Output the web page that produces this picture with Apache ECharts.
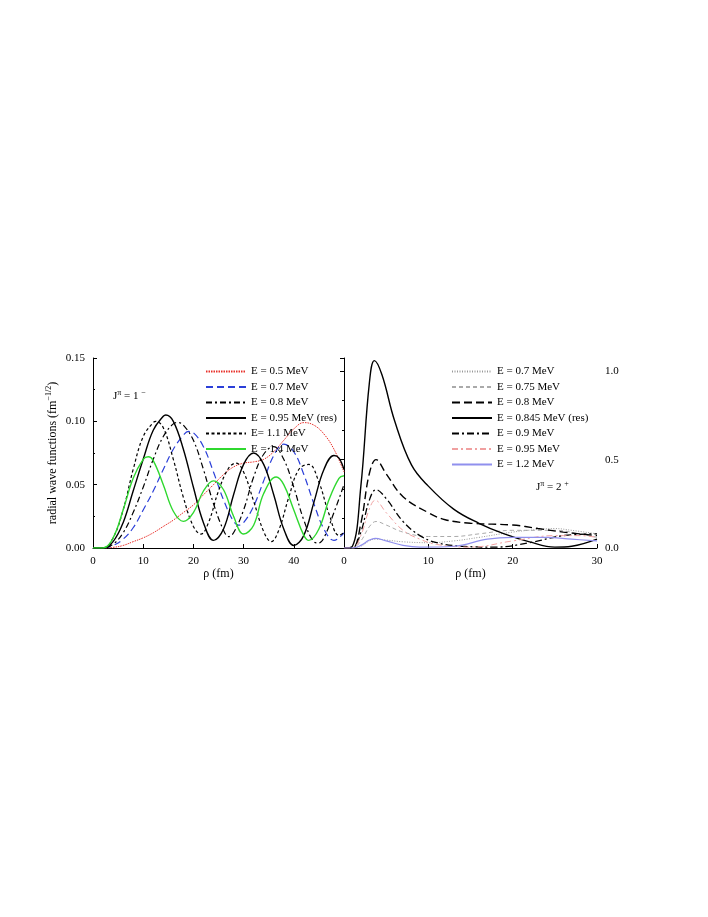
<!DOCTYPE html>
<html><head><meta charset="utf-8">
<script src="https://cdn.jsdelivr.net/npm/echarts@6/dist/echarts.min.js"></script>
<style>html,body{margin:0;padding:0;background:#fff}#c{width:708px;height:917px}</style>
</head><body><div id="c"></div>
<script>
// Left panel J=1- (rho fm, value)
const L05 = [[0,0],[2,0],[4,0.0005],[6,0.002],[8,0.005],[10,0.008],[12,0.012],[14,0.017],[16,0.022],[18,0.028],[20,0.034],[22,0.042],[24,0.05],[26,0.058],[28,0.064],[30,0.067],[32,0.068],[34,0.07],[36,0.076],[38,0.085],[40,0.094],[42,0.099],[44,0.097],[46,0.09],[48,0.078],[50,0.06]];
const L07 = [[0,0],[2,0],[4,0.002],[6,0.007],[8,0.016],[10,0.03],[12,0.045],[14,0.062],[16,0.078],[18,0.089],[19,0.092],[20,0.091],[22,0.08],[24,0.06],[26,0.038],[28,0.021],[29,0.018],[30,0.02],[32,0.033],[34,0.053],[36,0.073],[38,0.082],[40,0.076],[42,0.058],[44,0.035],[46,0.015],[48,0.006],[50,0.012]];
const L08 = [[0,0],[2,0],[4,0.003],[6,0.012],[8,0.028],[10,0.048],[12,0.07],[14,0.088],[16,0.098],[17,0.099],[18,0.097],[20,0.085],[22,0.062],[24,0.035],[26,0.014],[27,0.009],[28,0.012],[30,0.03],[32,0.056],[34,0.074],[36,0.08],[38,0.07],[40,0.048],[42,0.022],[44,0.005],[45,0.004],[46,0.008],[48,0.028],[50,0.05]];
const L095 = [[0,0],[2,0],[4,0.005],[6,0.02],[8,0.045],[10,0.07],[12,0.093],[14,0.104],[14.5,0.105],[16,0.1],[18,0.078],[20,0.048],[22,0.02],[24,0.006],[26,0.015],[28,0.042],[30,0.066],[32,0.075],[34,0.066],[36,0.042],[38,0.015],[40,0.002],[42,0.01],[44,0.036],[46,0.062],[48,0.073],[49,0.071],[50,0.062]];
const L11 = [[0,0],[2,0],[4,0.008],[6,0.03],[8,0.062],[10,0.088],[12,0.099],[12.5,0.1],[14,0.095],[16,0.07],[18,0.04],[20,0.017],[21.5,0.011],[23,0.02],[25,0.045],[27,0.063],[28.5,0.067],[30,0.06],[32,0.037],[34,0.013],[35.5,0.005],[37,0.014],[39,0.04],[41,0.062],[43,0.066],[45,0.052],[47,0.027],[49,0.01],[50,0.012]];
const L14 = [[0,0],[2,0],[4,0.008],[6,0.03],[8,0.055],[10,0.07],[11,0.072],[12,0.069],[14,0.05],[16,0.029],[18,0.021],[20,0.028],[22,0.045],[24,0.053],[26,0.046],[28,0.025],[30,0.011],[32,0.018],[34,0.043],[36.5,0.056],[38,0.05],[40,0.03],[42,0.01],[43,0.006],[45,0.015],[47,0.038],[49,0.055],[50,0.057]];
// Right panel J=2+
const R07 = [[0,0],[1,0],[2,0.01],[3,0.04],[3.7,0.05],[5,0.045],[7,0.035],[10,0.03],[13,0.04],[16,0.06],[20,0.09],[23,0.105],[25,0.11],[27,0.1],[30,0.08]];
const R075 = [[0,0],[1,0],[2,0.04],[3,0.12],[3.8,0.15],[5,0.13],[7,0.09],[10,0.065],[13,0.065],[16,0.08],[20,0.1],[25,0.1],[28,0.08],[30,0.06]];
const R08 = [[0,0],[1,0],[2,0.14],[3,0.42],[3.8,0.5],[5,0.42],[7,0.29],[10,0.2],[12,0.16],[15,0.14],[20,0.13],[23,0.11],[26,0.09],[30,0.07]];
const R0845 = [[0,0],[1,0.01],[2,0.35],[3,0.93],[3.6,1.06],[4.5,0.98],[6,0.72],[8,0.47],[10,0.35],[13,0.22],[16,0.14],[19,0.08],[22,0.035],[25,0.005],[27,0.01],[30,0.05]];
const R09 = [[0,0],[1,0],[2,0.09],[3,0.27],[3.8,0.33],[5,0.28],[7,0.15],[9,0.07],[11,0.03],[14,0.01],[18,0.005],[22,0.03],[26,0.07],[30,0.08]];
const R095 = [[0,0],[1,0],[2,0.07],[3,0.22],[3.7,0.27],[5,0.2],[7,0.1],[9,0.05],[11,0.02],[15,0.005],[20,0.04],[25,0.07],[28,0.07],[30,0.06]];
const R12 = [[0,0],[1,0],[2,0.015],[3,0.045],[3.7,0.055],[5,0.04],[7,0.015],[9,0.005],[13,0.01],[17,0.05],[20,0.06],[24,0.06],[27,0.05],[30,0.04]];

const F = 'Liberation Serif';
const ax = {axisLine:{show:true,lineStyle:{color:'#000'}},axisTick:{inside:true,length:4,lineStyle:{color:'#000'}},
  axisLabel:{fontFamily:F,fontSize:11,color:'#000'},splitLine:{show:false}};
function s(name,data,xi,color,type,w){return {name,type:'line',data,xAxisIndex:xi,yAxisIndex:xi,smooth:0.4,symbol:'none',
  lineStyle:{color,type,width:w||1.2},itemStyle:{color},z:3};}
const series=[
 s('E = 0.5 MeV',L05,0,'#e8302a',[1.5,1],1),
 s('E = 0.7 MeV',L07,0,'#2b3fd8',[7,4]),
 s('E = 0.8 MeV',L08,0,'#000',[6,3,2,3]),
 s('E = 0.95 MeV (res)',L095,0,'#000','solid',1.4),
 s('E= 1.1 MeV',L11,0,'#000',[3,2.5]),
 s('E = 1.4 MeV',L14,0,'#2fd82f','solid',1.4),
 s('E = 0.7 MeV ',R07,1,'#999',[1,1.5],1),
 s('E = 0.75 MeV',R075,1,'#aaa',[4,3],1),
 s('E = 0.8 MeV ',R08,1,'#000',[8,4],1.4),
 s('E = 0.845 MeV (res)',R0845,1,'#000','solid',1.4),
 s('E = 0.9 MeV',R09,1,'#000',[7,3,2,3],1.3),
 s('E = 0.95 MeV',R095,1,'#f0a0a0',[6,3,2,3],1),
 s('E = 1.2 MeV',R12,1,'#9090ee','solid',1.2)
];
const leg = (names,left)=>({data:names,orient:'vertical',left,top:361,itemWidth:40,itemHeight:10,itemGap:4.5,
  itemStyle:{opacity:0,borderWidth:0},textStyle:{fontFamily:F,fontSize:11,color:'#000'}});
const opt={animation:false,
 grid:[{left:93,right:364,top:358,bottom:369},{left:344,right:111,top:358,bottom:369}],
 legend:[leg(series.slice(0,6).map(x=>x.name),200),leg(series.slice(6).map(x=>x.name),446)],
 xAxis:[
  Object.assign({},ax,{type:'value',gridIndex:0,min:0,max:50,interval:10,name:'ρ (fm)',nameLocation:'middle',nameGap:16,
   nameTextStyle:{fontFamily:F,fontSize:12,color:'#000'},axisLabel:Object.assign({},ax.axisLabel,{formatter:v=>v==50?'':v})}),
  Object.assign({},ax,{type:'value',gridIndex:1,min:0,max:30,interval:10,name:'ρ (fm)',nameLocation:'middle',nameGap:16,
   nameTextStyle:{fontFamily:F,fontSize:12,color:'#000'}})],
 yAxis:[
  Object.assign({},ax,{type:'value',gridIndex:0,min:0,max:0.15,interval:0.05,axisLabel:Object.assign({},ax.axisLabel,{formatter:v=>v.toFixed(2)}),
   minorTick:{show:true,splitNumber:2,length:2},name:'radial wave functions (fm{s|−1/2})',nameLocation:'middle',nameGap:32,
   nameTextStyle:{fontFamily:F,fontSize:12,color:'#000',rich:{s:{fontFamily:F,fontSize:8,verticalAlign:'top',padding:[0,0,8,0]}}}}),
  Object.assign({},ax,{type:'value',gridIndex:1,min:0,max:1.075,interval:0.5,position:'right',
   axisLabel:Object.assign({},ax.axisLabel,{showMaxLabel:false,formatter:v=>v>1.05?'':v.toFixed(1)}),minorTick:{show:true,splitNumber:3,length:2}})],
 graphic:[
  {type:'text',left:113,top:389,style:{text:'J{s|π} = 1 {s|−}',font:'11px '+F,fill:'#000',rich:{s:{fontFamily:F,fontSize:8,padding:[0,0,7,0]}}}},
  {type:'text',left:536,top:480,style:{text:'J{s|π} = 2 {s|+}',font:'11px '+F,fill:'#000',rich:{s:{fontFamily:F,fontSize:8,padding:[0,0,7,0]}}}}
 ],
 series};
echarts.init(document.getElementById('c')).setOption(opt);
</script></body></html>
